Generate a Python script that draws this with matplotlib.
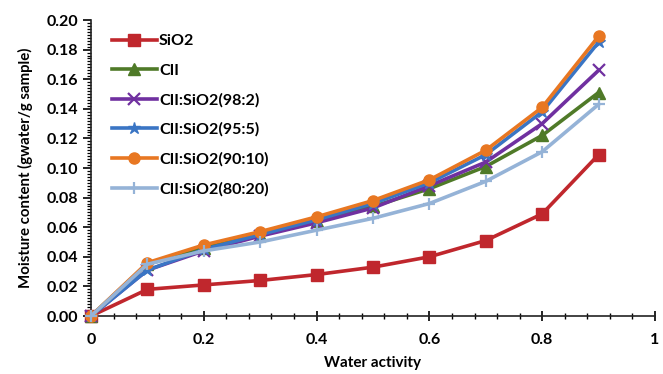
import matplotlib
matplotlib.use("Agg")
import matplotlib.pyplot as plt
from matplotlib.ticker import MultipleLocator, FormatStrFormatter, FuncFormatter

aw = [0.0, 0.1, 0.2, 0.3, 0.4, 0.5, 0.6, 0.7, 0.8, 0.9]
sio2 = [0.0, 0.018, 0.021, 0.024, 0.028, 0.033, 0.040, 0.051, 0.069, 0.109]
cii = [0.0, 0.035, 0.046, 0.055, 0.064, 0.074, 0.086, 0.101, 0.122, 0.151]
cii_98_2 = [0.0, 0.031, 0.044, 0.054, 0.063, 0.073, 0.088, 0.104, 0.130, 0.166]
cii_95_5 = [0.0, 0.031, 0.045, 0.055, 0.065, 0.076, 0.090, 0.109, 0.138, 0.185]
cii_90_10 = [0.0, 0.036, 0.048, 0.057, 0.067, 0.078, 0.092, 0.112, 0.141, 0.189]
cii_80_20 = [0.0, 0.035, 0.044, 0.050, 0.058, 0.066, 0.076, 0.091, 0.111, 0.143]

labels = ["SiO2", "CII", "CII:SiO2(98:2)", "CII:SiO2(95:5)", "CII:SiO2(90:10)", "CII:SiO2(80:20)"]
colors = ["#C0272D", "#4F7A28", "#7030A0", "#3A75C4", "#E87722", "#95B3D7"]
markers = ["s", "^", "x", "*", "o", "+"]
series = [sio2, cii, cii_98_2, cii_95_5, cii_90_10, cii_80_20]

plt.rcParams['font.family'] = ['Lato', 'DejaVu Sans']
plt.rcParams['font.weight'] = 'bold'

fig = plt.figure(figsize=(6.63, 3.74), dpi=100)
ax = fig.add_axes([91/663, 1-316/374, (655-91)/663, (316-20)/374])

for y, lab, c, m in zip(series, labels, colors, markers):
    ms = 8
    mew = 1
    if m in ("x", "+"):
        mew = 1.6
        ms = 9
    if m == "*":
        ms = 9
    ax.plot(aw, y, color=c, lw=2.6, marker=m, markersize=ms, markeredgewidth=mew,
            markerfacecolor=c, markeredgecolor=c, label=lab, clip_on=False, zorder=3)

ax.set_xlim(0, 1)
ax.set_ylim(0, 0.20)
ax.xaxis.set_major_locator(MultipleLocator(0.2))
ax.xaxis.set_minor_locator(MultipleLocator(0.04))
ax.yaxis.set_major_locator(MultipleLocator(0.02))
ax.yaxis.set_minor_locator(MultipleLocator(0.002))
ax.yaxis.set_major_formatter(FormatStrFormatter('%.2f'))
ax.xaxis.set_major_formatter(FuncFormatter(lambda v, p: ('%g' % round(v, 2))))

for s in ["top", "right"]:
    ax.spines[s].set_visible(False)
for s in ["left", "bottom"]:
    ax.spines[s].set_linewidth(1.2)
    ax.spines[s].set_color("#222222")

ax.tick_params(axis='y', which='major', direction='out', length=6, width=1.2, labelsize=11.5, pad=3)
ax.tick_params(axis='y', which='minor', direction='out', length=3, width=0.9)
ax.tick_params(axis='x', which='major', direction='inout', length=7, width=1.2, labelsize=11.5, pad=9)
ax.tick_params(axis='x', which='minor', direction='inout', length=5, width=1)

ax.set_xlabel("Water activity", fontsize=11, fontweight='bold', labelpad=6)
ax.set_ylabel("Moisture content (gwater/g sample)", fontsize=10.8, fontweight='bold', labelpad=10)

leg = ax.legend(loc='upper left', bbox_to_anchor=(0.02, 0.985), frameon=False, fontsize=11.5,
                handlelength=2.8, labelspacing=0.95, handletextpad=0.15, borderaxespad=0.2)

fig.savefig("out.png", dpi=100)
